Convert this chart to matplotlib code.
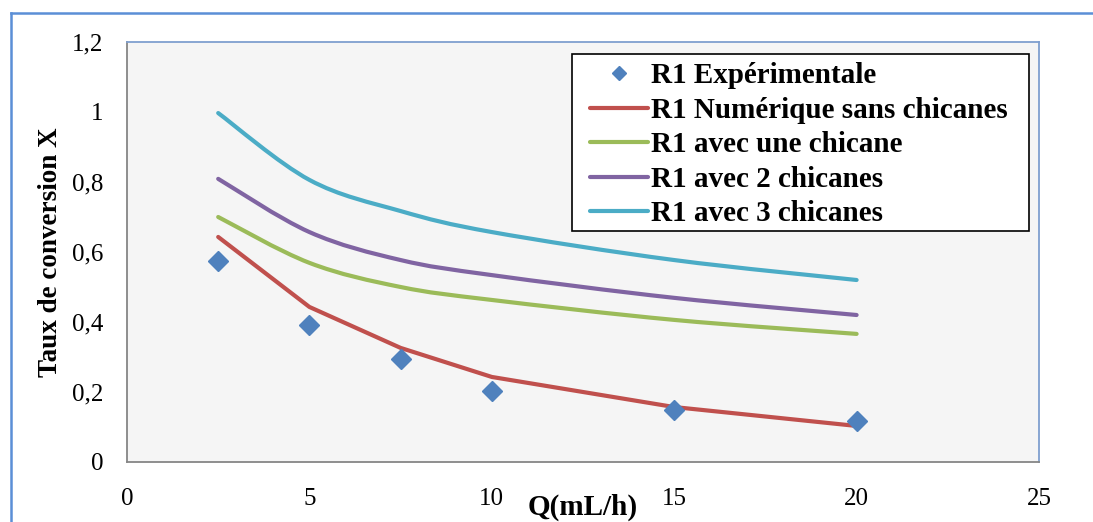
import matplotlib
matplotlib.use("Agg")
import matplotlib.pyplot as plt
from matplotlib.path import Path
from matplotlib.patches import PathPatch, Rectangle
from matplotlib.lines import Line2D
from matplotlib.ticker import FuncFormatter
import numpy as np

plt.rcParams['font.family'] = ['Liberation Serif', 'DejaVu Serif']

# data
q_exp = [2.5, 5, 7.5, 10, 15, 20]
x_exp = [0.574, 0.391, 0.294, 0.203, 0.149, 0.117]

q_num = [2.5, 5, 7.5, 10, 15, 20]
x_sans = [0.643, 0.443, 0.326, 0.243, 0.157, 0.103]
x_une = [0.700, 0.569, 0.500, 0.463, 0.406, 0.366]
x_deux = [0.809, 0.657, 0.577, 0.534, 0.469, 0.420]
x_trois = [0.997, 0.806, 0.717, 0.657, 0.577, 0.520]

labels = ['R1 Expérimentale', 'R1 Numérique sans chicanes',
          'R1 avec une chicane', 'R1 avec 2 chicanes', 'R1 avec 3 chicanes']
colors = ['#4F81BD', '#C0504D', '#9BBB59', '#8064A2', '#4BACC6']


def smooth_path(xs, ys):
    """Bezier path through the points (like Excel's smoothed line)"""
    pts = np.column_stack([xs, ys])
    verts = [pts[0]]
    codes = [Path.MOVETO]
    n = len(pts)
    for i in range(n - 1):
        p0 = pts[i - 1] if i > 0 else pts[i]
        p1 = pts[i]
        p2 = pts[i + 1]
        p3 = pts[i + 2] if i + 2 < n else pts[i + 1]
        c1 = p1 + (p2 - p0) / 6.0
        c2 = p2 - (p3 - p1) / 6.0
        verts += [c1, c2, p2]
        codes += [Path.CURVE4] * 3
    return Path(verts, codes)


fig = plt.figure(figsize=(10.93, 5.22), dpi=100)
ax = fig.add_axes([127 / 1093, 60 / 522, 912 / 1093, 420 / 522])
ax.set_facecolor('#F5F5F5')

ax.plot(q_num, x_sans, color=colors[1], lw=3, solid_capstyle='round', zorder=3)
for ys, c in zip([x_une, x_deux, x_trois], colors[2:]):
    ax.add_patch(PathPatch(smooth_path(q_num, ys), fill=False, edgecolor=c,
                           lw=3, capstyle='round', zorder=3))
ax.plot(q_exp, x_exp, 'D', color=colors[0], ms=10, zorder=4)

ax.set_xlim(0, 25)
ax.set_ylim(0, 1.2)
ax.set_xticks([0, 5, 10, 15, 20, 25])
ax.set_yticks([0, 0.2, 0.4, 0.6, 0.8, 1.0, 1.2])
ax.yaxis.set_major_formatter(FuncFormatter(lambda v, p: f"{v:g}".replace('.', ',')))
ax.tick_params(axis='both', length=0, labelsize=18)
ax.tick_params(axis='y', pad=17)
ax.tick_params(axis='x', pad=19)

for s in ['left', 'bottom']:
    ax.spines[s].set_color('#868686')
    ax.spines[s].set_linewidth(1.3)
for s in ['top', 'right']:
    ax.spines[s].set_color('#7F9FCF')
    ax.spines[s].set_linewidth(1.3)

# legend box drawn separately so the handles can sit inside with a left margin
ax.add_patch(Rectangle((0.488, 0.55), 0.501, 0.421, transform=ax.transAxes,
                       facecolor='white', edgecolor='black', lw=1.2, zorder=5))
handles = [Line2D([], [], ls='none', marker='D', color=colors[0], ms=7)]
handles += [Line2D([], [], color=c, lw=3, solid_capstyle='round') for c in colors[1:]]
leg = ax.legend(handles, labels, loc='upper left', bbox_to_anchor=(0.5077, 0.952),
                prop={'family': 'Liberation Serif', 'weight': 'bold', 'size': 21},
                frameon=False, handlelength=2.0, handletextpad=0.1,
                labelspacing=0.26, borderpad=0, borderaxespad=0)
leg.set_zorder(6)

fig.text(51 / 1093, 1 - 252 / 522, 'Taux de conversion X', rotation=90,
         ha='center', va='center', fontsize=19.5, fontweight='bold')
fig.text(583 / 1093, 1 - 507 / 522, 'Q(mL/h)', ha='center', va='center',
         fontsize=21, fontweight='bold')

# outer chart border (left and top visible)
fig.add_artist(Line2D([11 / 1093, 11 / 1093], [0, 1 - 13 / 522],
                      transform=fig.transFigure, color='#5B8FD6', lw=1.8))
fig.add_artist(Line2D([11 / 1093, 1], [1 - 13 / 522, 1 - 13 / 522],
                      transform=fig.transFigure, color='#5B8FD6', lw=1.8))

fig.savefig('out.png', dpi=100)
